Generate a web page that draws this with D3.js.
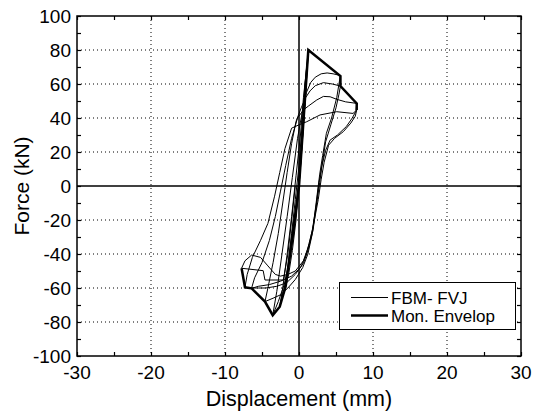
<!DOCTYPE html>
<html>
<head>
<meta charset="utf-8">
<script src="https://cdn.jsdelivr.net/npm/d3@7"></script>
<style>
body { margin: 0; background: #fff; }
text { font-family: "Liberation Sans", Arial, sans-serif; fill: #000; }
</style>
</head>
<body>
<div id="chart-area"></div>
<script>
// hysteresis trace, one array per amplitude cycle: [displacement mm, force kN]
var cycle1 = [[0,0],[0.3,18],[0.6,36],[0.9,55],[0.7,42],[0.3,18],[0,0],[-0.4,-20],[-0.9,-38],[-1.4,-52],[-1.8,-59],
    [-1.5,-48],[-1.0,-28],[-0.5,-8],[0,12]];
var cycle2 = [[0.4,35],[0.8,60],[1.26,80],[1.1,68],[0.7,42],[0.3,16],[-0.1,-5],[-0.7,-28],[-1.4,-48],[-2.0,-60],
    [-2.6,-71],[-2.2,-60],[-1.6,-40],[-1.0,-18],[-0.4,6],[0.2,30]];
var cycle3 = [[0.6,52],[1.0,68],[1.2,75],[1.0,62],[0.6,38],[0.1,10],[-0.5,-18],[-1.2,-42],[-2.0,-58],[-2.8,-68],
    [-3.55,-76],[-3.0,-62],[-2.3,-40],[-1.6,-18],[-0.9,5],[-0.2,28]];
var cycle4 = [[0.5,45],[1.0,55],[1.6,61],[2.2,64],[3.0,66],[3.8,66.5],[4.6,66],[5.6,65],[5.4,60],[5.1,52],[4.4,40],
    [3.7,31],[3.2,18],[2.8,7],[2.6,0],[2.2,-14],[1.8,-28],[1.2,-40],[0.5,-48],[-0.5,-55],[-1.5,-60],[-2.5,-64],
    [-3.5,-66],[-4.6,-68],[-4.2,-60],[-3.5,-45],[-2.8,-28],[-2.2,-10],[-1.6,8],[-1.0,25],[-0.4,38]];
var cycle5 = [[0.3,46],[0.9,52],[1.5,56],[2.2,59],[3.3,60.8],[4.5,60],[5.6,58.8],[5.4,54],[5.0,46],[4.3,36],[3.6,26],
    [3.1,12],[2.8,2],[2.4,-10],[1.9,-26],[1.2,-38],[0.6,-45.5],[-0.5,-52],[-1.7,-57],[-3.0,-59],[-4.5,-60],[-5.5,-60],
    [-6.4,-60],[-6.0,-54],[-5.0,-45],[-4.0,-32],[-3.2,-18],[-2.5,-3],[-1.8,12],[-1.0,28],[-0.2,40]];
var cycle6 = [[0.6,44.7],[1.26,47],[2.4,50.6],[3.3,52.7],[4.2,52.5],[5.1,51],[6.3,49.5],[7.8,48.6],[7.7,44],[7.2,40],
    [6.4,35],[5.2,30],[4.2,27],[3.6,21],[3.07,11.4],[2.7,2],[2.3,-12],[1.8,-26],[1.0,-40],[0.2,-48],[-1.0,-53],
    [-2.5,-56],[-4.0,-58],[-5.5,-59],[-6.4,-60.2],[-7.3,-59.6],[-7.0,-52],[-6.3,-42],[-5.2,-32],[-4.2,-22],[-3.3,-6],
    [-2.6,8],[-1.9,22],[-1.0,34]];
var cycle7 = [[0.0,36],[1.04,37.8],[2.84,41.8],[5.1,43.7],[7.3,42.7],[7.8,44.7],[7.6,41],[7.0,37],[6.0,32],[4.8,28],
    [4.0,24],[3.4,14],[3.0,4],[2.6,-8],[2.0,-22],[1.4,-34],[0.6,-44],[-0.5,-50],[-1.5,-52],[-2.5,-53],[-3.2,-52],
    [-4.2,-47],[-5.2,-42],[-6.4,-40.6],[-7.3,-44],[-7.76,-48.4],[-4.84,-49.8],[-4.6,-55.3],[-2.12,-55.3],
    [-1.5,-40],[-1.0,-20],[-0.5,0]];
var envelope = [[-7.76,-48.4],[-7.3,-59.6],[-6.4,-60.2],[-4.6,-68],[-3.55,-76],[-2.6,-71],[-1.8,-59],[0,0],
    [1.26,80],[5.6,64.7],[5.6,58.8],[7.8,48.6],[7.8,44.7]];

var xTicks = [-30, -20, -10, 0, 10, 20, 30];
var yTicks = [-100, -80, -60, -40, -20, 0, 20, 40, 60, 80, 100];
var legendNames = ["FBM- FVJ", "Mon. Envelop"];

var W = 535, H = 417;
var pLeft = 77, pRight = 521, pTop = 16, pBottom = 356;

var svg = d3.select("#chart-area").append("svg")
    .attr("width", W)
    .attr("height", H);

var x = d3.scaleLinear().domain([-30, 30]).range([pLeft, pRight]);
var y = d3.scaleLinear().domain([-100, 100]).range([pBottom, pTop]);

// dotted grid
svg.selectAll(".gx").data(xTicks.filter((d) => d != 0 && d > -30 && d < 30))
    .enter().append("line")
    .attr("x1", (d) => x(d)).attr("x2", (d) => x(d))
    .attr("y1", pTop).attr("y2", pBottom)
    .attr("stroke", "#000").attr("stroke-width", 1).attr("stroke-dasharray", "1,3");
svg.selectAll(".gy").data(yTicks.filter((d) => d != 0 && d > -100 && d < 100))
    .enter().append("line")
    .attr("y1", (d) => y(d)).attr("y2", (d) => y(d))
    .attr("x1", pLeft).attr("x2", pRight)
    .attr("stroke", "#000").attr("stroke-width", 1).attr("stroke-dasharray", "1,3");

// zero lines
svg.append("line").attr("x1", x(0)).attr("x2", x(0)).attr("y1", pTop).attr("y2", pBottom)
    .attr("stroke", "#000").attr("stroke-width", 1.5);
svg.append("line").attr("x1", pLeft).attr("x2", pRight).attr("y1", y(0)).attr("y2", y(0))
    .attr("stroke", "#000").attr("stroke-width", 1.5);

// data
var line = d3.line().x((d) => x(d[0])).y((d) => y(d[1]));
var trace = [[0,0]].concat(cycle1, cycle2, cycle3, cycle4, cycle5, cycle6, cycle7);
svg.append("path").datum(trace)
    .attr("d", line).attr("fill", "none")
    .attr("stroke", "#000").attr("stroke-width", 1).attr("stroke-linejoin", "round");
svg.append("path").datum(envelope)
    .attr("d", line).attr("fill", "none")
    .attr("stroke", "#000").attr("stroke-width", 2.5).attr("stroke-linejoin", "miter");

// axes, ticks inside on all four sides
var xMinor = d3.range(-30, 31, 5), yMinor = d3.range(-100, 101, 10);
svg.append("g").attr("transform", "translate(0," + pBottom + ")")
    .call(d3.axisTop(x).tickValues(xMinor).tickSize(4).tickFormat(""));
svg.append("g").attr("transform", "translate(0," + pTop + ")")
    .call(d3.axisBottom(x).tickValues(xMinor).tickSize(4).tickFormat(""));
svg.append("g").attr("transform", "translate(" + pLeft + ",0)")
    .call(d3.axisRight(y).tickValues(yMinor).tickSize(4).tickFormat(""));
svg.append("g").attr("transform", "translate(" + pRight + ",0)")
    .call(d3.axisLeft(y).tickValues(yMinor).tickSize(4).tickFormat(""));
svg.selectAll(".domain").remove();
svg.selectAll(".tick line").attr("stroke-width", 1.2);

svg.append("rect").attr("x", pLeft).attr("y", pTop)
    .attr("width", pRight - pLeft).attr("height", pBottom - pTop)
    .attr("fill", "none").attr("stroke", "#000").attr("stroke-width", 1.5);

// tick labels
svg.selectAll(".xl").data(xTicks).enter().append("text")
    .attr("x", (d) => x(d)).attr("y", 379)
    .attr("text-anchor", "middle").attr("font-size", 19)
    .text((d) => d);
svg.selectAll(".yl").data(yTicks).enter().append("text")
    .attr("x", pLeft - 6).attr("y", (d) => y(d) + 7)
    .attr("text-anchor", "end").attr("font-size", 19)
    .text((d) => d);

// axis titles
svg.append("text").attr("x", x(0)).attr("y", 406)
    .attr("text-anchor", "middle").attr("font-size", 21.5)
    .text("Displacement (mm)");
svg.append("text").attr("transform", "translate(29," + y(0) + ") rotate(-90)")
    .attr("text-anchor", "middle").attr("font-size", 21)
    .text("Force (kN)");

// legend
var lg = svg.append("g");
lg.append("rect").attr("x", 339.5).attr("y", 282.5).attr("width", 176).attr("height", 47)
    .attr("fill", "#fff").attr("stroke", "#000").attr("stroke-width", 1);
legendNames.forEach((name, i) => {
    var ly = 297.5 + i * 18;
    lg.append("line").attr("x1", 351).attr("x2", 388).attr("y1", ly).attr("y2", ly)
        .attr("stroke", "#000").attr("stroke-width", i == 0 ? 1 : 2.5);
    lg.append("text").attr("x", 391).attr("y", ly + 6).attr("font-size", 17).text(name);
});
</script>
</body>
</html>
